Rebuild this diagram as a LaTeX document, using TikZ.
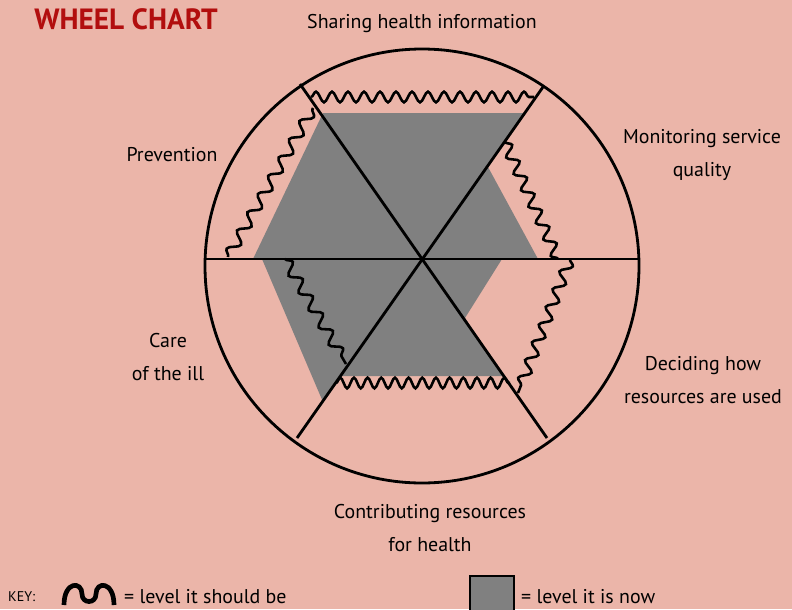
\documentclass[tikz,border=0pt]{standalone}
\usepackage{fontspec}
\setmainfont{PT Sans}
\usetikzlibrary{decorations.pathmorphing}

\definecolor{wheelbg}{RGB}{235,181,169}
\definecolor{nowgrey}{RGB}{128,128,128}
\definecolor{titlered}{RGB}{178,14,14}

\begin{document}
\begin{tikzpicture}[x = 0.3mm, y = -0.3mm,
	spoke/.style = {line width = 2.4pt},
	wavy/.style = {decorate, decoration = {snake, amplitude = 1.6mm, segment length = #1}, line width = 2.2pt},
	lbl/.style = {font = \fontsize{17}{28}\selectfont, align = center, inner sep = 0pt}]
\fill [wheelbg] (0,0) rectangle (792,609);
\useasboundingbox (0,0) rectangle (792,609);

% level it is now
\fill [nowgrey] (323,113) -- (525,113) -- (488,167) -- (538,259) -- (502,259) -- (465,318)
	-- (504,376) -- (342,376) -- (323,402) -- (262,259) -- (253,259) -- cycle;

% the wheel
\draw [spoke] (422,266) circle [radius = 217];
\draw [spoke] (205,259) -- (640,259);
\draw [spoke] (300,84) -- (547,438);
\draw [spoke] (543,87) -- (297,438);

% level it should be
\draw [wavy = 4.8mm] (311,97) -- (534,97);
\draw [wavy = 5.4mm] (505,142) -- (558,259);
\draw [wavy = 5.7mm] (570,259) -- (518,393);
\draw [wavy = 4.1mm] (336,383) -- (510,383);
\draw [wavy = 6mm] (285,259) -- (346,364);
\draw [wavy = 6.3mm] (228,257) -- (313,108);

% labels
\node [font = \fontsize{25}{30}\selectfont\bfseries, text = titlered, inner sep = 0pt] (title) at (126,19) {WHEEL CHART};
\node [lbl] (sharing) at (422,24) {Sharing health information};
\node [lbl] (monitoring) at (702,155) {Monitoring service\\quality};
\node [lbl] (deciding) at (703,380) {Deciding how\\resources are used};
\node [lbl] (contributing) at (430,528) {Contributing resources\\for health};
\node [lbl] (care) at (168,357) {Care\\of the ill};
\node [lbl] (prevention) at (172,155) {Prevention};

% key
\node [lbl, font = \fontsize{12}{14}\selectfont, anchor = west] (key) at (8,597) {KEY:};
\draw [line width = 4pt] (64,605) .. controls (64,581) and (82,581) .. (82,594)
	.. controls (82,604) and (96,604) .. (96,594) .. controls (96,581) and (114,581) .. (114,605);
\node [lbl, anchor = west] (should) at (124,597) {= level it should be};
\draw [fill = nowgrey, line width = 2pt] (470,576) rectangle (514,612);
\node [lbl, anchor = west] (now) at (521,597) {= level it is now};
\end{tikzpicture}
\end{document}
